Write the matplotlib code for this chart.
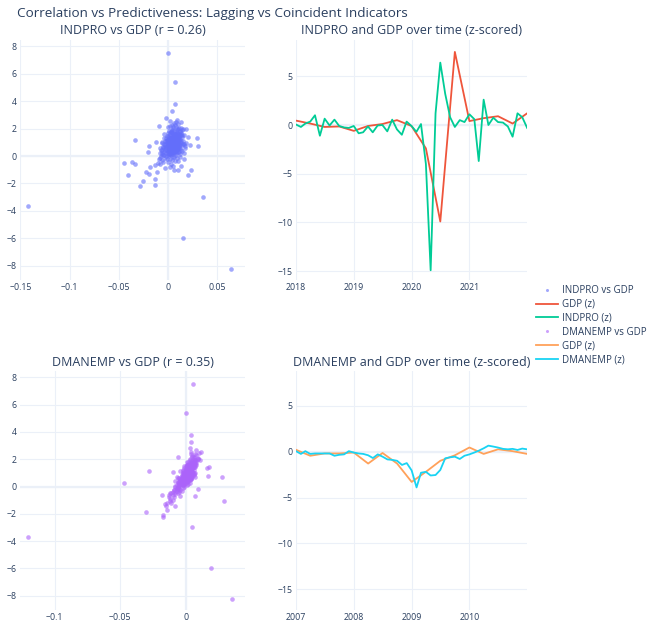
import matplotlib
matplotlib.use("Agg")
import matplotlib.pyplot as plt
import matplotlib.dates as mdates
from matplotlib.lines import Line2D
import pandas as pd

plt.rcParams['font.family'] = ['Open Sans', 'DejaVu Sans']

TXT = "#2a3f5f"
GRID = "#EBF0F8"

# scatter: monthly change of indicator vs GDP (z)
gdp_z = [
    0.80, 0.65, 1.10, 0.40, 1.45, 0.95, 0.20, 1.25, 0.55, 0.75,
    1.60, 0.30, 1.00, 0.85, 0.10, 1.35, 0.60, 1.80, 0.45, 1.15,
    0.70, 0.90, 1.50, 0.35, 1.95, 0.00, 1.20, 0.50, 1.05, 0.80,
    0.25, 1.70, 0.60, 1.30, 0.95, -0.20, 1.40, 0.70, 2.10, 0.40,
    1.10, 0.85, 0.15, 1.65, 0.55, 1.25, -0.40, 0.75, 1.00, 2.30,
    0.30, 1.55, 0.65, 0.90, 1.85, 0.05, 1.15, 0.50, 1.35, 0.80,
    -0.10, 1.05, 0.45, 1.75, 0.60, 1.20, 0.35, 0.95, 1.45, -0.60,
    0.70, 2.00, 0.25, 1.30, 0.85, 1.60, 0.10, 1.10, 0.55, -0.80,
    1.90, 0.40, 1.00, 0.75, 1.50, -0.30, 2.20, 0.65, 1.25, 0.20,
    0.90, 1.40, -0.50, 0.50, 1.70, 0.00, 1.15, 2.45, -0.70, 0.30,
    1.05, 1.55, -0.90, 0.85, 1.85, -0.15, 0.60, 2.35, -1.00, 1.30,
    0.40, -0.25, 1.95, 0.15, 1.60, -0.65, 0.95, 2.10, -1.20, 0.70,
    0.78, 1.12, 0.62, 1.38, 0.88, 0.48, 1.22, 0.98, 0.68, 1.58,
    0.38, 1.08, 0.82, 1.28, 0.58, 1.48, 0.92, 0.72, 1.18, 0.52,
    1.02, 0.42, 1.32, 0.86, 0.66, 1.42, 0.28, 1.62, 0.96, 0.76,
    1.16, 0.56, 1.26, 0.46, 1.06, 0.84, 1.74, 0.64, 1.36, 0.18,
    1.15, -0.50, 0.27, -1.40, -0.40, -0.60, -2.20, -1.85, -1.40, -1.05,
    -1.05, -1.70, -2.10, -1.30, -1.20, -0.80, 0.70, 1.05, 2.20, 2.80,
    3.30, 1.95, 1.40, 0.80, 1.35, 0.70, 2.50, -0.20, -0.70,
    7.55, 5.37, 3.80, -3.68, -3.00, -5.95, -8.24,
    0.74, 1.14, 0.54, 1.34, 0.94, 0.44, 1.24, 0.84, 0.64, 1.54,
    0.34, 1.04, 0.79, 1.19, 0.59, 1.44, 0.89, 0.69, 1.09, 0.49,
    0.99, 0.39, 1.29, 0.81, 0.61, 1.39, 0.31, 1.51, 0.91, 0.71,
    1.21, 0.51, 1.11, 0.41, 1.01, 0.87, 1.67, 0.57, 1.33, 0.22,
    0.12, 0.33, 0.47, 0.63, 0.81, 0.97, 1.13, 1.31, 1.49, 1.67,
    1.83, 2.05, 2.25, 2.40, 1.92, 1.72, 1.57, 1.41, 1.23, 1.07,
    0.93, 0.77, 0.61, 0.43, 0.26, 0.08, -0.08, -0.22, -0.35, -0.45,
    -0.55, -0.18, 0.02, 0.21, 0.37, 0.53, 0.67, 0.83, 1.03, 1.17,
    1.37, 1.53, 1.77, 1.97, 2.15, 2.55, 2.65, 0.14, 0.29, 0.49,
    0.73, 0.89, 1.13, 1.27, 1.46, 1.63, 1.81, 2.02, 0.36, 0.58,
    0.74, 0.93, 1.09, 1.23, 1.41, 1.59, 0.52, 0.69, 0.86, 1.01,
    -0.28, -0.12, 0.06, 0.24, 0.41, -0.38, -0.05, 0.19, 0.55, 1.52,
]
indpro_chg = [
    0.004, 0.002, 0.006, 0.000, 0.008, 0.003, -0.002, 0.005, 0.007, -0.001,
    0.010, 0.003, 0.009, 0.001, -0.004, 0.002, 0.005, 0.006, -0.003, 0.011,
    0.008, -0.002, 0.004, 0.006, 0.009, 0.001, 0.000, 0.010, 0.005, 0.012,
    0.004, 0.002, -0.004, 0.007, 0.006, -0.001, 0.011, 0.003, 0.005, 0.008,
    -0.003, 0.007, 0.002, 0.013, 0.001, 0.009, -0.005, 0.005, 0.001, 0.007,
    -0.006, 0.006, 0.010, 0.004, 0.012, 0.003, 0.002, -0.002, 0.005, 0.009,
    0.006, 0.008, 0.004, 0.003, 0.011, -0.001, 0.001, 0.010, 0.000, -0.008,
    0.006, 0.010, 0.008, 0.004, -0.004, 0.007, 0.000, 0.013, 0.003, 0.002,
    0.004, 0.009, 0.007, 0.000, 0.012, 0.004, 0.002, -0.005, 0.010, 0.006,
    0.015, 0.005, -0.010, 0.005, 0.009, -0.007, 0.004, 0.013, 0.005, 0.011,
    -0.006, 0.014, -0.003, 0.016, 0.001, 0.009, -0.008, 0.010, 0.006, -0.002,
    0.014, -0.009, 0.015, 0.012, -0.004, -0.013, 0.018, 0.000, -0.011, 0.017,
    0.005, 0.003, 0.000, 0.006, 0.008, 0.002, 0.009, 0.001, 0.004, 0.005,
    0.007, 0.006, 0.002, 0.003, 0.008, 0.009, 0.005, 0.001, 0.007, 0.006,
    0.004, 0.003, 0.008, 0.006, 0.009, 0.004, 0.005, 0.008, 0.000, 0.007,
    0.001, 0.004, 0.006, 0.001, 0.010, 0.003, 0.008, 0.002, 0.010, 0.001,
    -0.034, -0.045, -0.021, -0.041, -0.037, -0.034, -0.029, -0.026, 0.020, 0.023,
    0.010, -0.0135, -0.013, -0.020, -0.023, -0.018, -0.020, -0.012, -0.009, -0.002,
    0.004, 0.018, 0.020, 0.022, 0.029, 0.030, 0.008, 0.016, 0.013,
    0.000, 0.0068, 0.0065, -0.1423, 0.0356, 0.0152, 0.064,
    0.003, 0.007, 0.004, 0.002, 0.006, 0.005, 0.004, 0.007, 0.003, 0.007,
    0.002, 0.005, 0.006, 0.004, 0.003, 0.006, 0.004, 0.006, 0.008, 0.003,
    0.007, 0.005, 0.006, 0.004, 0.002, 0.007, 0.003, 0.006, 0.002, 0.004,
    0.005, 0.007, 0.004, 0.004, 0.008, 0.005, 0.004, 0.006, 0.007, 0.003,
    -0.006, -0.004, -0.007, -0.005, -0.003, -0.006, -0.002, -0.004, -0.001, 0.000,
    0.003, 0.011, 0.004, 0.006, 0.014, 0.012, 0.013, 0.014, 0.012, 0.015,
    0.013, 0.014, 0.012, 0.013, 0.010, 0.008, 0.005, 0.002, 0.007, 0.000,
    0.003, -0.003, -0.002, 0.000, -0.001, 0.001, -0.002, 0.000, -0.001, 0.000,
    0.001, 0.002, 0.004, 0.005, 0.008, 0.002, 0.009, 0.004, 0.006, 0.009,
    0.011, 0.009, 0.010, 0.011, 0.010, 0.011, 0.009, 0.013, 0.002, 0.004,
    0.006, 0.007, 0.003, 0.005, 0.006, 0.007, 0.008, 0.010, 0.011, 0.012,
    -0.006, -0.008, -0.005, -0.008, -0.006, 0.010, 0.012, 0.016, 0.017, 0.016,
]
dmanemp_chg = [
    0.001, -0.001, 0.003, -0.003, 0.004, 0.002, -0.004, 0.002, 0.000, -0.002,
    0.005, -0.002, 0.001, 0.003, -0.005, 0.004, -0.002, 0.006, -0.001, 0.002,
    0.000, 0.001, 0.003, -0.003, 0.007, -0.006, 0.000, -0.001, 0.004, 0.002,
    -0.004, 0.005, -0.003, 0.001, 0.003, -0.007, 0.006, -0.001, 0.006, -0.002,
    0.000, 0.004, -0.003, 0.004, 0.001, 0.005, -0.008, 0.002, -0.002, 0.008,
    -0.005, 0.002, 0.003, -0.001, 0.005, -0.004, 0.003, 0.000, 0.005, -0.003,
    -0.006, 0.002, 0.001, 0.007, -0.001, 0.001, -0.002, 0.004, 0.002, -0.010,
    0.001, 0.009, -0.005, 0.000, 0.002, 0.003, -0.002, 0.005, -0.004, -0.009,
    0.004, 0.000, 0.006, 0.002, 0.001, -0.007, 0.006, -0.002, 0.003, -0.001,
    0.001, 0.006, -0.011, 0.003, 0.003, -0.008, 0.001, 0.010, -0.004, -0.003,
    0.000, 0.008, -0.012, 0.003, 0.008, -0.005, -0.006, 0.004, -0.010, 0.003,
    0.002, -0.009, 0.007, -0.002, 0.001, -0.013, 0.006, 0.009, -0.014, 0.007,
    0.000, 0.002, 0.001, 0.003, 0.001, -0.001, 0.004, 0.000, 0.002, 0.004,
    -0.002, 0.001, 0.003, 0.001, -0.001, 0.005, 0.002, -0.002, 0.002, 0.000,
    0.003, -0.001, 0.003, 0.000, 0.002, 0.005, -0.003, 0.006, 0.001, 0.003,
    0.002, 0.000, 0.004, -0.002, 0.002, 0.000, 0.005, 0.002, 0.004, -0.003,
    -0.028, -0.012, -0.047, -0.015, -0.010, -0.018, -0.017, -0.030, -0.008, 0.029,
    -0.012, -0.014, -0.017, -0.016, -0.011, -0.013, -0.007, -0.010, -0.006, 0.003,
    0.004, 0.011, 0.018, 0.017, 0.016, 0.028, 0.012, 0.009, 0.007,
    0.0053, 0.000, 0.0038, -0.120, 0.0046, 0.019, 0.035,
    0.001, 0.003, -0.001, 0.002, 0.002, 0.000, 0.003, 0.001, 0.000, 0.003,
    -0.001, 0.002, 0.001, 0.002, 0.001, 0.004, 0.002, 0.001, 0.003, -0.001,
    0.002, 0.000, 0.004, 0.002, 0.001, 0.003, -0.002, 0.004, 0.000, 0.002,
    0.003, 0.001, 0.002, 0.000, 0.001, 0.002, 0.004, 0.001, 0.002, -0.002,
    -0.007, -0.006, -0.004, -0.005, -0.003, -0.002, -0.004, 0.000, -0.001, 0.002,
    0.001, 0.003, 0.005, 0.007, 0.006, 0.008, 0.007, 0.007, 0.006, 0.005,
    0.005, 0.004, 0.004, 0.002, 0.003, 0.001, -0.002, -0.004, -0.003, -0.006,
    -0.008, -0.006, -0.005, -0.005, -0.004, -0.003, -0.003, -0.001, 0.000, -0.002,
    -0.001, 0.000, 0.002, 0.003, 0.005, 0.004, 0.008, -0.001, 0.000, 0.001,
    0.002, 0.004, 0.005, 0.003, 0.004, 0.006, 0.006, 0.009, 0.001, 0.003,
    0.005, -0.001, -0.001, -0.002, 0.001, 0.001, 0.004, 0.005, 0.006, 0.007,
    -0.009, -0.007, -0.008, -0.006, -0.008, -0.005, -0.001, 0.002, 0.004, 0.002,
]

# time series, z-scored
indpro_z_2018 = [
    0.05, -0.20, 0.15, 0.35, 1.00, -1.10, 0.65, -0.05, 0.55, -0.10,
    -0.25, -0.30, -0.10, -0.85, -0.75, -0.15, -0.75, -0.05, 0.00, -0.65,
    0.55, -0.45, -1.00, 0.35, -0.10, -0.70, 0.10, -4.00, -14.90, 1.20,
    6.40, 3.20, 0.80, -0.20, 0.50, 0.30, 1.10, 0.60, -3.70, 2.60,
    0.00, 0.75, 0.30, 0.25, -0.15, -1.20, 1.20, 0.80, -0.30,
]
gdp_z_2018 = [0.45, 0.15, -0.20, -0.15, -0.60, -0.10, 0.10, 0.50, -0.10,
              -2.40, -9.90, 7.50, 0.40, 0.70, 0.90, 0.15, 1.20]
dmanemp_z_2007 = [
    0.05, -0.25, 0.05, -0.25, -0.20, -0.20, -0.20, -0.20, -0.45, -0.35,
    -0.30, 0.05, -0.10, -0.20, -0.25, -0.40, -0.70, -0.30, -0.55, -0.85,
    -0.90, -1.00, -1.45, -1.25, -2.05, -3.90, -2.30, -2.20, -2.60, -2.55,
    -2.00, -0.73, -0.62, -0.55, -0.80, -0.45, -0.30, -0.10, 0.10, 0.36,
    0.65, 0.55, 0.44, 0.30, 0.25, 0.30, 0.18, 0.33, 0.25,
]
gdp_z_2007 = [0.20, -0.45, -0.20, -0.20, -0.10, -1.30, -0.15, -1.30, -3.30,
              -2.20, -1.00, -0.40, 0.45, -0.25, 0.25, 0.05, -0.25]

months_2018 = pd.date_range("2018-01-01", "2022-01-01", freq="MS")
quarters_2018 = pd.date_range("2018-01-01", "2022-01-01", freq="QS")
months_2007 = pd.date_range("2007-01-01", "2011-01-01", freq="MS")
quarters_2007 = pd.date_range("2007-01-01", "2011-01-01", freq="QS")

fig = plt.figure(figsize=(6.55, 6.24), dpi=100)
W, H = 655, 624


def place(l, r, t, b):
    return fig.add_axes([l / W, 1 - b / H, (r - l) / W, (b - t) / H])


def style(ax, zero_x=True):
    for s in ax.spines.values():
        s.set_visible(False)
    ax.grid(True, color=GRID, lw=0.8, zorder=0)
    ax.set_axisbelow(True)
    ax.axhline(0, color=GRID, lw=1.6, zorder=0.5)
    if zero_x:
        ax.axvline(0, color=GRID, lw=1.6, zorder=0.5)
    ax.tick_params(length=0, labelsize=6.3, colors=TXT, pad=2.5)


ax1 = place(20, 245, 40, 280)
ax2 = place(296, 527, 40, 280)
ax3 = place(20, 245, 371, 610)
ax4 = place(296, 527, 371, 610)

ax1.scatter(indpro_chg, gdp_z, s=11, color="#636efa", alpha=0.6, lw=0, zorder=3)
ax1.set_xlim(-0.1505, 0.078)
ax1.set_ylim(-9.05, 8.47)
ax1.set_xticks([-0.15, -0.1, -0.05, 0, 0.05])
ax1.set_xticklabels(["\u22120.15", "\u22120.1", "\u22120.05", "0", "0.05"])
ax1.set_yticks(range(-8, 9, 2))
style(ax1)

ax3.scatter(dmanemp_chg, gdp_z, s=11, color="#ab63fa", alpha=0.6, lw=0, zorder=3)
ax3.set_xlim(-0.1263, 0.0452)
ax3.set_ylim(-9.05, 8.47)
ax3.set_xticks([-0.1, -0.05, 0])
ax3.set_xticklabels(["\u22120.1", "\u22120.05", "0"])
ax3.set_yticks(range(-8, 9, 2))
style(ax3)

ax2.plot(quarters_2018, gdp_z_2018, color="#EF553B", lw=1.3, zorder=3)
ax2.plot(months_2018, indpro_z_2018, color="#00cc96", lw=1.3, zorder=3)
ax2.set_xlim(months_2018[0], pd.Timestamp("2021-12-31"))
ax2.set_ylim(-15.9, 8.72)
ax2.set_yticks([-15, -10, -5, 0, 5])
ax2.xaxis.set_major_locator(mdates.YearLocator())
ax2.xaxis.set_major_formatter(mdates.DateFormatter("%Y"))
style(ax2, zero_x=False)

ax4.plot(quarters_2007, gdp_z_2007, color="#FFA15A", lw=1.3, zorder=3)
ax4.plot(months_2007, dmanemp_z_2007, color="#19d3f3", lw=1.3, zorder=3)
ax4.set_xlim(months_2007[0], pd.Timestamp("2010-12-31"))
ax4.set_ylim(-17.25, 8.78)
ax4.set_yticks([-15, -10, -5, 0, 5])
ax4.xaxis.set_major_locator(mdates.YearLocator())
ax4.xaxis.set_major_formatter(mdates.DateFormatter("%Y"))
style(ax4, zero_x=False)

fig.text(17 / W, 1 - 13 / H, "Correlation vs Predictiveness: Lagging vs Coincident Indicators",
         fontsize=9.7, color=TXT, ha="left", va="center")
titles = [
    (132.5, 31, "INDPRO vs GDP (r = 0.26)"),
    (411.5, 31, "INDPRO and GDP over time (z-scored)"),
    (132.5, 362, "DMANEMP vs GDP (r = 0.35)"),
    (411.5, 362, "DMANEMP and GDP over time (z-scored)"),
]
for x, y, t in titles:
    fig.text(x / W, 1 - y / H, t, fontsize=9.0, color=TXT, ha="center", va="center")

handles = [
    Line2D([], [], ls="none", marker="o", ms=2.2, color="#636efa", alpha=0.6, mew=0),
    Line2D([], [], color="#EF553B", lw=1.3),
    Line2D([], [], color="#00cc96", lw=1.3),
    Line2D([], [], ls="none", marker="o", ms=2.2, color="#ab63fa", alpha=0.6, mew=0),
    Line2D([], [], color="#FFA15A", lw=1.3),
    Line2D([], [], color="#19d3f3", lw=1.3),
]
labels = ["INDPRO vs GDP", "GDP (z)", "INDPRO (z)", "DMANEMP vs GDP", "GDP (z)", "DMANEMP (z)"]
leg = fig.legend(handles, labels, loc="upper left", bbox_to_anchor=(536 / W, 1 - 285 / H),
                 frameon=False, fontsize=7, handlelength=2.3, handletextpad=0.4,
                 labelspacing=0.3, borderpad=0, borderaxespad=0)
for t in leg.get_texts():
    t.set_color(TXT)

fig.savefig("out.png", dpi=100)
